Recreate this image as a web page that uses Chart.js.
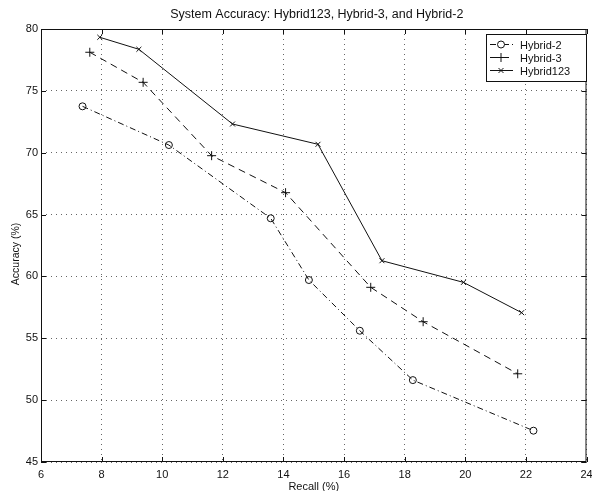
<!DOCTYPE html>
<html>
<head>
<meta charset="utf-8">
<script src="https://cdn.jsdelivr.net/npm/chart.js@4.4.0/dist/chart.umd.min.js"></script>
<style>
    body { margin: 0; background: #fff; }
    #wrap { width: 592px; height: 491px; }
</style>
</head>
<body>
<div id="wrap"><canvas id="chart" width="592" height="491"></canvas></div>
<script>
// Values
const seriesNames = ['Hybrid-2', 'Hybrid-3', 'Hybrid123'];

const hybrid2Recall = [7.37, 10.22, 13.58, 14.84, 16.52, 18.27, 22.25];
const hybrid2Accuracy = [73.75, 70.62, 64.7, 59.71, 55.61, 51.62, 47.53];

const hybrid3Recall = [7.61, 9.37, 11.63, 14.07, 16.88, 18.61, 21.73];
const hybrid3Accuracy = [78.12, 75.69, 69.76, 66.77, 59.12, 56.34, 52.13];

const hybrid123Recall = [7.94, 9.23, 12.32, 15.14, 17.25, 19.94, 21.86];
const hybrid123Accuracy = [79.33, 78.36, 72.32, 70.68, 61.27, 59.52, 57.07];

const xTicks = [6, 8, 10, 12, 14, 16, 18, 20, 22, 24];
const yTicks = [45, 50, 55, 60, 65, 70, 75, 80];

const chartTitle = 'System Accuracy: Hybrid123, Hybrid-3, and Hybrid-2';
const xTitle = 'Recall (%)';
const yTitle = 'Accuracy (%)';

const FONT = "'Liberation Sans', Arial, Helvetica, sans-serif";
const INK = '#111';

// Line styles per series (dash-dot, dashed, solid)
const styles = [
    { dash: [6, 3, 1, 3], point: 'circle', radius: 3.5 },
    { dash: [7, 5], point: 'cross', radius: 4.5 },
    { dash: [], point: 'crossRot', radius: 3.5 }
];

const toPoints = (xs, ys) => xs.map((x, i) => ({ x: x, y: ys[i] }));
const seriesData = [
    toPoints(hybrid2Recall, hybrid2Accuracy),
    toPoints(hybrid3Recall, hybrid3Accuracy),
    toPoints(hybrid123Recall, hybrid123Accuracy)
];

// Box, inward ticks, titles and the framed legend (MATLAB look)
const matlabFrame = {
    id: 'matlabFrame',
    afterDraw(chart) {
        const ctx = chart.ctx;
        const area = chart.chartArea;
        const xs = chart.scales.x;
        const ys = chart.scales.y;
        ctx.save();
        ctx.strokeStyle = INK;
        ctx.lineWidth = 1;
        ctx.setLineDash([]);

        // axes box
        ctx.strokeRect(area.left + 0.5, area.top + 0.5, area.right - area.left - 1, area.bottom - area.top - 1);

        // inward ticks
        const tl = 5;
        ctx.beginPath();
        xTicks.forEach(v => {
            const px = Math.round(xs.getPixelForValue(v)) + 0.5;
            ctx.moveTo(px, area.bottom);
            ctx.lineTo(px, area.bottom - tl);
            ctx.moveTo(px, area.top);
            ctx.lineTo(px, area.top + tl);
        });
        yTicks.forEach(v => {
            const py = Math.round(ys.getPixelForValue(v)) + 0.5;
            ctx.moveTo(area.left, py);
            ctx.lineTo(area.left + tl, py);
            ctx.moveTo(area.right, py);
            ctx.lineTo(area.right - tl, py);
        });
        ctx.stroke();

        // titles
        ctx.fillStyle = INK;
        ctx.textAlign = 'center';
        ctx.textBaseline = 'middle';
        ctx.font = '12.5px ' + FONT;
        ctx.fillText(chartTitle, (area.left + area.right) / 2 + 3, 15);
        ctx.font = '11px ' + FONT;
        ctx.fillText(xTitle, (area.left + area.right) / 2, area.bottom + 25);
        ctx.save();
        ctx.translate(16, 254);
        ctx.rotate(-Math.PI / 2);
        ctx.font = '10.5px ' + FONT;
        ctx.fillText(yTitle, 0, 0);
        ctx.restore();

        // legend
        ctx.font = '11px ' + FONT;
        const lx = 486, ly = 34, lw = 100, lh = 47;
        ctx.fillStyle = '#fff';
        ctx.fillRect(lx, ly, lw, lh);
        ctx.strokeRect(lx + 0.5, ly + 0.5, lw, lh);
        seriesNames.forEach((name, i) => {
            const rowY = ly + 10.5 + i * 13;
            const st = styles[i];
            ctx.setLineDash(st.dash);
            ctx.beginPath();
            ctx.moveTo(lx + 4, rowY);
            ctx.lineTo(lx + 27, rowY);
            ctx.stroke();
            ctx.setLineDash([]);
            Chart.helpers.drawPoint(ctx, {
                pointStyle: st.point,
                radius: st.radius,
                borderWidth: 1
            }, lx + 15, rowY);
            ctx.fillStyle = INK;
            ctx.textAlign = 'left';
            ctx.fillText(name, lx + 34, rowY + 1);
        });
        ctx.restore();
    }
};

const datasets = seriesNames.map((name, i) => ({
    label: name,
    data: seriesData[i],
    showLine: true,
    borderColor: INK,
    borderWidth: 1,
    borderDash: styles[i].dash,
    backgroundColor: 'rgba(0,0,0,0)',
    pointStyle: styles[i].point,
    pointRadius: styles[i].radius,
    pointBorderColor: INK,
    pointBorderWidth: 1,
    pointBackgroundColor: 'rgba(0,0,0,0)',
    tension: 0,
    fill: false
}));

new Chart(document.getElementById('chart').getContext('2d'), {
    type: 'scatter',
    data: { datasets: datasets },
    options: {
        responsive: false,
        animation: false,
        layout: { padding: { top: 29, right: 5, left: 0, bottom: 0 } },
        plugins: {
            legend: { display: false },
            title: { display: false },
            tooltip: { enabled: false }
        },
        scales: {
            x: {
                type: 'linear',
                min: 6,
                max: 24,
                afterBuildTicks: (s) => { s.ticks = xTicks.map(v => ({ value: v })); },
                afterFit: (s) => {
                    s.height = 29;
                    s.paddingLeft = 0;
                    s.paddingRight = 0;
                },
                grid: { color: '#666', lineWidth: 1, drawTicks: false },
                border: { display: false, dash: [1, 4] },
                ticks: {
                    color: INK,
                    padding: 6,
                    maxRotation: 0,
                    autoSkip: false,
                    font: { family: FONT, size: 11 }
                }
            },
            y: {
                type: 'linear',
                min: 45,
                max: 80,
                afterBuildTicks: (s) => { s.ticks = yTicks.map(v => ({ value: v })); },
                afterFit: (s) => {
                    s.width = 41;
                    s.paddingTop = 0;
                    s.paddingBottom = 0;
                },
                grid: { color: '#666', lineWidth: 1, drawTicks: false },
                border: { display: false, dash: [1, 4] },
                ticks: {
                    color: INK,
                    padding: 3,
                    autoSkip: false,
                    font: { family: FONT, size: 11 }
                }
            }
        }
    },
    plugins: [matlabFrame]
});
</script>
</body>
</html>
